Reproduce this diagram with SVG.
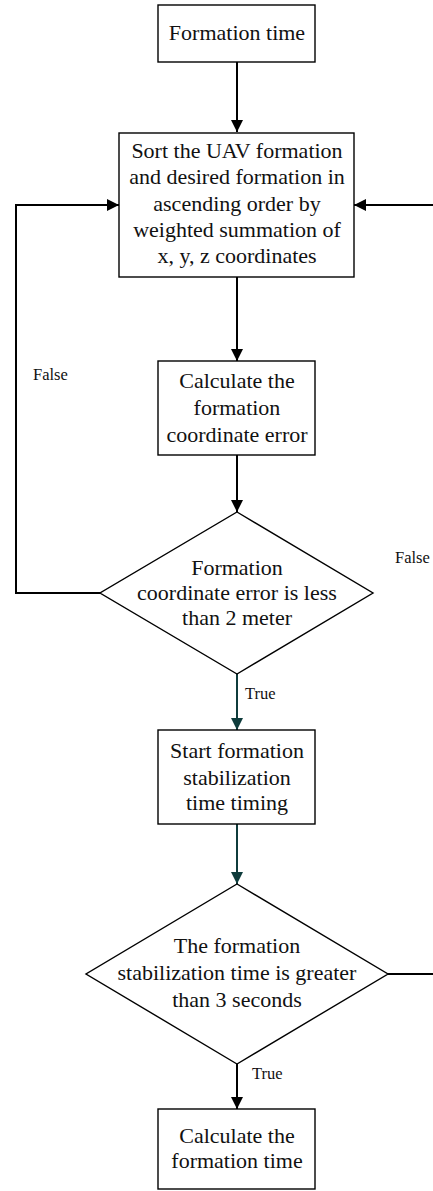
<svg xmlns="http://www.w3.org/2000/svg" width="433" height="1191" viewBox="0 0 433 1191">
<style>
.box{fill:#fff;stroke:#000;stroke-width:1.4}
.t{font-family:"Liberation Serif","Times New Roman",serif;font-size:22px;fill:#111;text-anchor:middle}
.lbl{font-family:"Liberation Serif","Times New Roman",serif;font-size:16.5px;fill:#111}
.c{fill:none;stroke:#000;stroke-width:2}
.ct{fill:none;stroke:#0f3c3c;stroke-width:2}
</style>
<defs>
<marker id="ah" markerWidth="12" markerHeight="12" refX="12" refY="6" orient="auto" markerUnits="userSpaceOnUse"><path d="M0,0 L12,6 L0,12 Z" fill="#000"/></marker>
<marker id="aht" markerWidth="12" markerHeight="12" refX="12" refY="6" orient="auto" markerUnits="userSpaceOnUse"><path d="M0,0 L12,6 L0,12 Z" fill="#0f3c3c"/></marker>
</defs>
<rect width="433" height="1191" fill="#fff"/>
<g id="connectors">
<path class="c" d="M237,62 V132" marker-end="url(#ah)"/>
<path class="c" d="M237,277 V361" marker-end="url(#ah)"/>
<path class="c" d="M237,455 V512" marker-end="url(#ah)"/>
<path class="c" d="M100,593 H16 V205 H119" marker-end="url(#ah)"/>
<path class="c" d="M433,205 H354" marker-end="url(#ah)"/>
<path class="ct" d="M237,674 V730" marker-end="url(#aht)"/>
<path class="ct" d="M237,824 V884" marker-end="url(#aht)"/>
<path class="c" d="M388,974 H433"/>
<path class="c" d="M237,1064 V1109" marker-end="url(#ah)"/>
<text class="lbl" x="33" y="380">False</text>
<text class="lbl" x="395" y="563">False</text>
<text class="lbl" x="245" y="699">True</text>
<text class="lbl" x="252" y="1079">True</text>
</g>
<g id="n1">
<rect class="box" x="158" y="5" width="157" height="57"/>
<text class="t" x="237" y="40">Formation time</text>
</g>
<g id="n2">
<rect class="box" x="119" y="133" width="235" height="144"/>
<text class="t" x="237" y="158">Sort the UAV formation</text>
<text class="t" x="237" y="184">and desired formation in</text>
<text class="t" x="237" y="210.5">ascending order by</text>
<text class="t" x="237" y="237">weighted summation of</text>
<text class="t" x="237" y="263">x, y, z coordinates</text>
</g>
<g id="n3">
<rect class="box" x="158" y="361" width="157" height="94"/>
<text class="t" x="237" y="388">Calculate the</text>
<text class="t" x="237" y="415">formation</text>
<text class="t" x="237" y="442">coordinate error</text>
</g>
<g id="n4">
<polygon class="box" points="237,512 373,593 237,674 100,593"/>
<text class="t" x="237" y="575">Formation</text>
<text class="t" x="237" y="600">coordinate error is less</text>
<text class="t" x="237" y="625">than 2 meter</text>
</g>
<g id="n5">
<rect class="box" x="158" y="730" width="157" height="94"/>
<text class="t" x="237" y="758">Start formation</text>
<text class="t" x="237" y="785">stabilization</text>
<text class="t" x="237" y="810">time timing</text>
</g>
<g id="n6">
<polygon class="box" points="237,884 388,974 237,1064 86,974"/>
<text class="t" x="237" y="953">The formation</text>
<text class="t" x="237" y="980">stabilization time is greater</text>
<text class="t" x="237" y="1007">than 3 seconds</text>
</g>
<g id="n7">
<rect class="box" x="158" y="1109" width="157" height="80"/>
<text class="t" x="237" y="1143">Calculate the</text>
<text class="t" x="237" y="1168">formation time</text>
</g>
</svg>
